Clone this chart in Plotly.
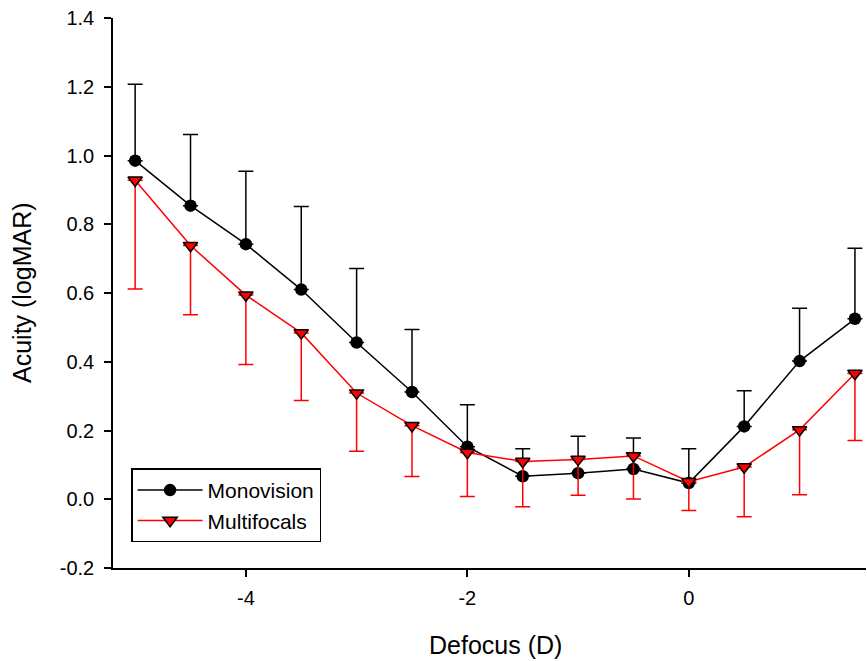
import plotly.graph_objects as go

# Defocus levels (dioptres)
defocus = [-5.0, -4.5, -4.0, -3.5, -3.0, -2.5, -2.0, -1.5, -1.0, -0.5, 0.0, 0.5, 1.0, 1.5]

# Mean acuity (logMAR) and error (SD) for each group
monovision = [0.985, 0.854, 0.742, 0.610, 0.456, 0.312, 0.153, 0.067, 0.076, 0.088, 0.047, 0.212, 0.402, 0.525]
monovision_err = [0.222, 0.207, 0.212, 0.242, 0.215, 0.182, 0.122, 0.080, 0.107, 0.090, 0.100, 0.104, 0.154, 0.205]

multifocals = [0.928, 0.738, 0.594, 0.484, 0.309, 0.214, 0.136, 0.110, 0.116, 0.126, 0.051, 0.094, 0.202, 0.366]
multifocals_err = [0.316, 0.201, 0.202, 0.197, 0.169, 0.148, 0.128, 0.132, 0.104, 0.125, 0.084, 0.145, 0.189, 0.195]

y_ticks = [-0.2, 0.0, 0.2, 0.4, 0.6, 0.8, 1.0, 1.2, 1.4]
x_ticks = [-4, -2, 0]

FONT = "Liberation Sans, Arial, sans-serif"

fig = go.Figure()

fig.add_trace(go.Scatter(
    x=defocus, y=monovision, name="Monovision", mode="lines+markers",
    line=dict(color="black", width=1.5),
    marker=dict(symbol="circle", size=12.5, color="black"),
    error_y=dict(type="data", array=monovision_err, arrayminus=[0] * len(defocus),
                 symmetric=False, color="black", thickness=1.5, width=7.5),
))

fig.add_trace(go.Scatter(
    x=defocus, y=multifocals, name="Multifocals", mode="lines+markers",
    line=dict(color="#ff0000", width=1.5),
    marker=dict(symbol="triangle-down", size=12.5, color="#ff0000",
                line=dict(color="black", width=1.5)),
    error_y=dict(type="data", array=[0] * len(defocus), arrayminus=multifocals_err,
                 symmetric=False, color="#ff0000", thickness=1.5, width=7.5),
))

axis_common = dict(
    showline=True, linecolor="black", linewidth=1.5,
    ticks="outside", ticklen=7, tickwidth=1.5, tickcolor="black",
    showgrid=False, zeroline=False,
    tickfont=dict(family=FONT, size=20, color="black"),
)

fig.update_xaxes(range=[-5.2, 1.6], tickvals=x_ticks, ticktext=[str(v) for v in x_ticks],
                 ticklabelstandoff=4, **axis_common)
fig.update_yaxes(range=[-0.2, 1.4], tickvals=y_ticks, ticktext=[f"{v:.1f}" for v in y_ticks],
                 ticklabelstandoff=6, **axis_common)

fig.add_annotation(text="Acuity (logMAR)", xref="paper", yref="paper", x=0, y=0.5,
                   xshift=-91, xanchor="center", yanchor="middle", textangle=-90,
                   showarrow=False, font=dict(family=FONT, size=25, color="black"))
fig.add_annotation(text="Defocus (D)", xref="paper", yref="paper", x=0.5, y=0,
                   xshift=6, yshift=-77, xanchor="center", yanchor="middle",
                   showarrow=False, font=dict(family=FONT, size=25, color="black"))

fig.update_layout(
    width=867, height=661,
    margin=dict(l=113, r=1, t=18, b=93),
    paper_bgcolor="white", plot_bgcolor="white",
    font=dict(family=FONT, color="black"),
    legend=dict(x=0.024, y=0.181, xanchor="left", yanchor="top",
                bordercolor="black", borderwidth=1.5, bgcolor="white",
                itemwidth=65, entrywidth=202, valign="middle",
                font=dict(family=FONT, size=21, color="black")),
)

fig.write_html("out.html")
